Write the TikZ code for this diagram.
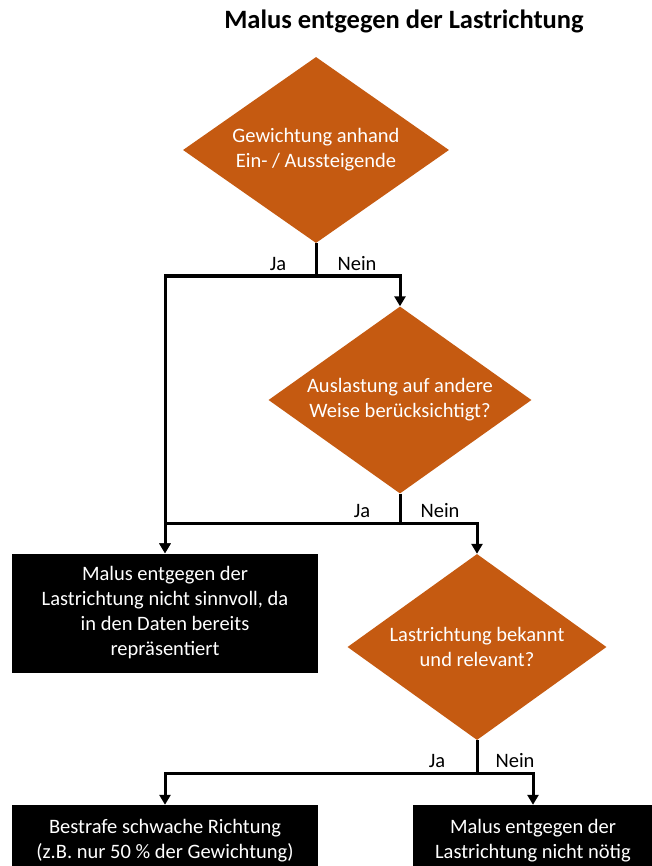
\documentclass[tikz,border=0pt]{standalone}
\usepackage{fontspec}
\setmainfont{Carlito}
\usetikzlibrary{shapes.geometric,arrows.meta}
\definecolor{dorange}{HTML}{C55A11}
\tikzset{
  base/.style={font=\fontsize{20.5}{25}\selectfont, align=center, inner sep=0pt},
  dia/.style={base, shape=diamond, fill=dorange, text=white, aspect=1.4},
  blackbox/.style={base, shape=rectangle, fill=black, text=white},
  conn/.style={line width=3pt, draw=black},
  arr/.style={conn, -{Triangle[width=11pt,length=10pt]}},
  lbl/.style={base, text=black},
}
\begin{document}
\begin{tikzpicture}[x=1pt,y=-1pt]
\clip (0,0) rectangle (652,866);
\fill[white] (0,0) rectangle (652,866);
\node[base, font=\fontsize{26.5}{30}\selectfont\bfseries, anchor=base] (title) at (404,29) {Malus entgegen der Lastrichtung};

\node[dia, minimum width=266, minimum height=186] (d1) at (316,150) {Gewichtung anhand\\Ein- / Aussteigende};
\node[dia, minimum width=263, minimum height=187] (d2) at (400,400) {Auslastung auf andere\\Weise berücksichtigt?};
\node[dia, minimum width=259, minimum height=186] (d3) at (477,647) {Lastrichtung bekannt\\und relevant?};

\node[blackbox, minimum width=306, minimum height=119] (b1) at (165,613) {Malus entgegen der\\Lastrichtung nicht sinnvoll, da\\in den Daten bereits\\repräsentiert};
\node[blackbox, minimum width=306, minimum height=72] (b2) at (165,841) {Bestrafe schwache Richtung\\(z.B. nur 50 \% der Gewichtung)};
\node[blackbox, minimum width=240, minimum height=72] (b3) at (533,841) {Malus entgegen der\\Lastrichtung nicht nötig};

\coordinate (j1) at (316,276);
\coordinate (j2) at (400,523);
\coordinate (j3) at (477,773);

\draw[conn] (d1.south) -- (j1);
\draw[arr] (j1) -| (b1.north);
\draw[arr] (j1) -| (d2.north);
\node[lbl] (ja1) at ([xshift=-38,yshift=12]j1) {Ja};
\node[lbl] (ne1) at ([xshift=41,yshift=12]j1) {Nein};

\draw[conn] (d2.south) -- (j2);
\draw[arr] (j2) -| (b1.north);
\draw[arr] (j2) -| (d3.north);
\node[lbl] (ja2) at ([xshift=-38,yshift=12]j2) {Ja};
\node[lbl] (ne2) at ([xshift=40,yshift=12]j2) {Nein};

\draw[conn] (d3.south) -- (j3);
\draw[arr] (j3) -| (b2.north);
\draw[arr] (j3) -| (b3.north);
\node[lbl] (ja3) at ([xshift=-40,yshift=12]j3) {Ja};
\node[lbl] (ne3) at ([xshift=38,yshift=12]j3) {Nein};
\end{tikzpicture}
\end{document}
